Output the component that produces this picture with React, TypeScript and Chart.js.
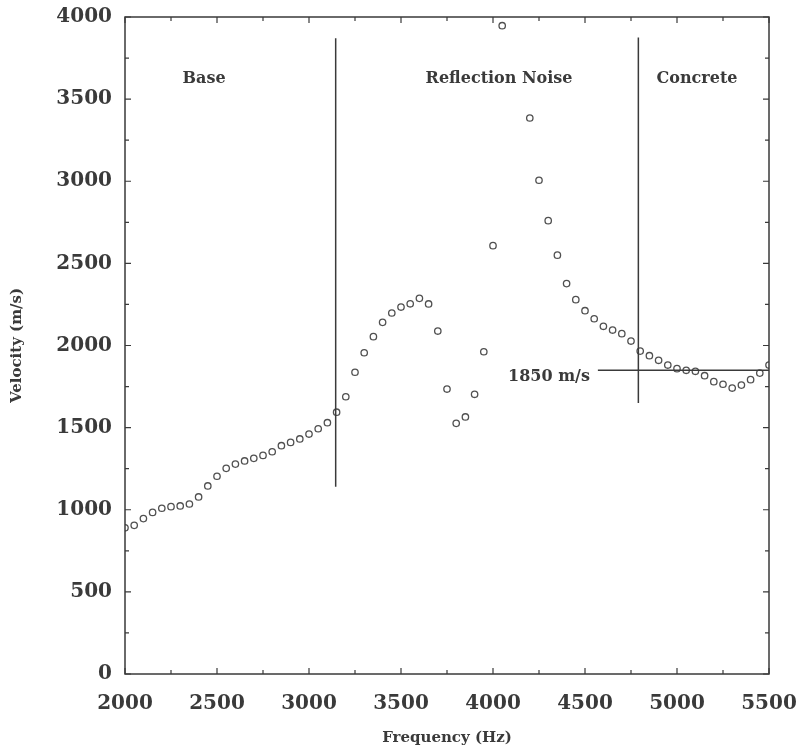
import React, { useEffect, useRef } from "react";
import { Chart, registerables } from "chart.js";

Chart.register(...registerables);

// ---- data ----
const frequencyHz = [
  2000, 2050, 2100, 2150, 2200, 2250, 2300, 2350, 2400, 2450,
  2500, 2550, 2600, 2650, 2700, 2750, 2800, 2850, 2900, 2950,
  3000, 3050, 3100, 3150, 3200, 3250, 3300, 3350, 3400, 3450,
  3500, 3550, 3600, 3650, 3700, 3750, 3800, 3850, 3900, 3950,
  4000, 4050, 4200, 4250, 4300, 4350, 4400, 4450, 4500, 4550,
  4600, 4650, 4700, 4750, 4800, 4850, 4900, 4950, 5000, 5050,
  5100, 5150, 5200, 5250, 5300, 5350, 5400, 5450, 5500,
];
const velocityMs = [
  890, 905, 946, 984, 1009, 1019, 1023, 1035, 1078, 1145,
  1204, 1252, 1278, 1297, 1313, 1331, 1353, 1390, 1410, 1431,
  1461, 1493, 1530, 1594, 1688, 1837, 1956, 2054, 2141, 2198,
  2234, 2254, 2287, 2253, 2088, 1735, 1526, 1565, 1703, 1962,
  2608, 3947, 3385, 3006, 2760, 2550, 2377, 2279, 2212, 2163,
  2117, 2094, 2072, 2027, 1966, 1938, 1910, 1881, 1859, 1849,
  1843, 1816, 1780, 1764, 1741, 1759, 1792, 1832, 1881,
];

// boundary lines (data coordinates)
const baseBoundaryX = [3145, 3145];
const baseBoundaryY = [1140, 3870];
const concreteBoundaryX = [4790, 4790];
const concreteBoundaryY = [1650, 3875];
const refLineX = [4570, 5500];
const refLineY = [1850, 1850];

// region labels
const regionLabels = ["Base", "Reflection Noise", "Concrete"];
const regionLabelX = [2430, 4033, 5109];
const regionLabelY = [3622, 3622, 3622];
const refLabel = "1850 m/s";
const refLabelX = 4527;
const refLabelY = 1808;

// ticks
const xMajorTicks = [2000, 2500, 3000, 3500, 4000, 4500, 5000, 5500];
const xMinorTicks = [2250, 2750, 3250, 3750, 4250, 4750, 5250];
const yMajorTicks = [0, 500, 1000, 1500, 2000, 2500, 3000, 3500, 4000];
const yMinorTicks = [250, 750, 1250, 1750, 2250, 2750, 3250, 3750];

const INK = "#3a3a3a";
const SERIF = "'DejaVu Serif', 'Liberation Serif', serif";

const framePlugin = {
  id: "frameAndLabels",
  afterDatasetsDraw(chart: any) {
    const { ctx, chartArea: a, scales } = chart;
    const xs = scales.x;
    const ys = scales.y;
    ctx.save();
    ctx.strokeStyle = INK;
    ctx.lineWidth = 1.5;
    ctx.strokeRect(a.left, a.top, a.right - a.left, a.bottom - a.top);
    ctx.lineWidth = 1.2;
    const drawX = (v: number, len: number) => {
      const px = xs.getPixelForValue(v);
      ctx.beginPath();
      ctx.moveTo(px, a.bottom);
      ctx.lineTo(px, a.bottom - len);
      ctx.moveTo(px, a.top);
      ctx.lineTo(px, a.top + len);
      ctx.stroke();
    };
    const drawY = (v: number, len: number) => {
      const py = ys.getPixelForValue(v);
      ctx.beginPath();
      ctx.moveTo(a.left, py);
      ctx.lineTo(a.left + len, py);
      ctx.moveTo(a.right, py);
      ctx.lineTo(a.right - len, py);
      ctx.stroke();
    };
    xMajorTicks.forEach((v) => drawX(v, 6));
    xMinorTicks.forEach((v) => drawX(v, 4));
    yMajorTicks.forEach((v) => drawY(v, 6));
    yMinorTicks.forEach((v) => drawY(v, 4));

    ctx.fillStyle = INK;
    ctx.font = `bold 16px ${SERIF}`;
    ctx.textAlign = "center";
    ctx.textBaseline = "middle";
    regionLabels.forEach((t, i) => {
      ctx.fillText(t, xs.getPixelForValue(regionLabelX[i]), ys.getPixelForValue(regionLabelY[i]));
    });
    ctx.textAlign = "right";
    ctx.fillText(refLabel, xs.getPixelForValue(refLabelX), ys.getPixelForValue(refLabelY));
    ctx.restore();
  },
};

export default function App() {
  const ref = useRef<HTMLCanvasElement | null>(null);
  useEffect(() => {
    document.body.style.margin = "0";
    if (!ref.current) return;
    const toPts = (xs: number[], ys: number[]) => xs.map((x, i) => ({ x, y: ys[i] }));
    const lineDs = (xs: number[], ys: number[]) => ({
      type: "line" as const,
      data: toPts(xs, ys),
      showLine: true,
      borderColor: INK,
      borderWidth: 1.5,
      pointRadius: 0,
      fill: false,
    });
    const chart = new Chart(ref.current, {
      type: "scatter",
      data: {
        datasets: [
          lineDs(baseBoundaryX, baseBoundaryY),
          lineDs(concreteBoundaryX, concreteBoundaryY),
          lineDs(refLineX, refLineY),
          {
            type: "scatter",
            data: toPts(frequencyHz, velocityMs),
            pointRadius: 3.2,
            pointBorderWidth: 1.3,
            borderColor: "#505050",
            backgroundColor: "rgba(255,255,255,0)",
          } as any,
        ],
      },
      options: {
        animation: false,
        responsive: false,
        devicePixelRatio: 1,
        layout: { padding: { left: 0, right: 34, top: 17, bottom: 0 } },
        plugins: { legend: { display: false }, tooltip: { enabled: false } },
        scales: {
          x: {
            type: "linear",
            min: 2000,
            max: 5500,
            afterBuildTicks: (s: any) => {
              s.ticks = xMajorTicks.map((v) => ({ value: v }));
            },
            afterFit: (s: any) => {
              s.height = 82;
              s.paddingLeft = 0;
              s.paddingRight = 0;
            },
            grid: { display: false, drawTicks: false },
            border: { display: false },
            ticks: {
              padding: 18,
              color: INK,
              font: { family: SERIF, weight: "bold", size: 20 },
              maxRotation: 0,
              autoSkip: false,
              callback: (v: any) => String(v),
            },
            title: {
              display: true,
              text: "Frequency (Hz)",
              color: INK,
              font: { family: SERIF, weight: "bold", size: 15 },
              padding: { top: 0, bottom: 9 },
            },
          },
          y: {
            type: "linear",
            min: 0,
            max: 4000,
            afterBuildTicks: (s: any) => {
              s.ticks = yMajorTicks.map((v) => ({ value: v }));
            },
            afterFit: (s: any) => {
              s.width = 125;
              s.paddingTop = 0;
              s.paddingBottom = 0;
            },
            grid: { display: false, drawTicks: false },
            border: { display: false },
            ticks: {
              padding: 13,
              color: INK,
              font: { family: SERIF, weight: "bold", size: 20 },
              autoSkip: false,
              callback: (v: any) => String(v),
            },
            title: {
              display: true,
              text: "Velocity (m/s)",
              color: INK,
              font: { family: SERIF, weight: "bold", size: 15 },
              padding: { top: 8, bottom: 0 },
            },
          },
        },
      },
      plugins: [framePlugin],
    } as any);
    return () => chart.destroy();
  }, []);
  return (
    <div style={{ width: 803, height: 756 }}>
      <canvas ref={ref} width={803} height={756} style={{ display: "block" }} />
    </div>
  );
}
